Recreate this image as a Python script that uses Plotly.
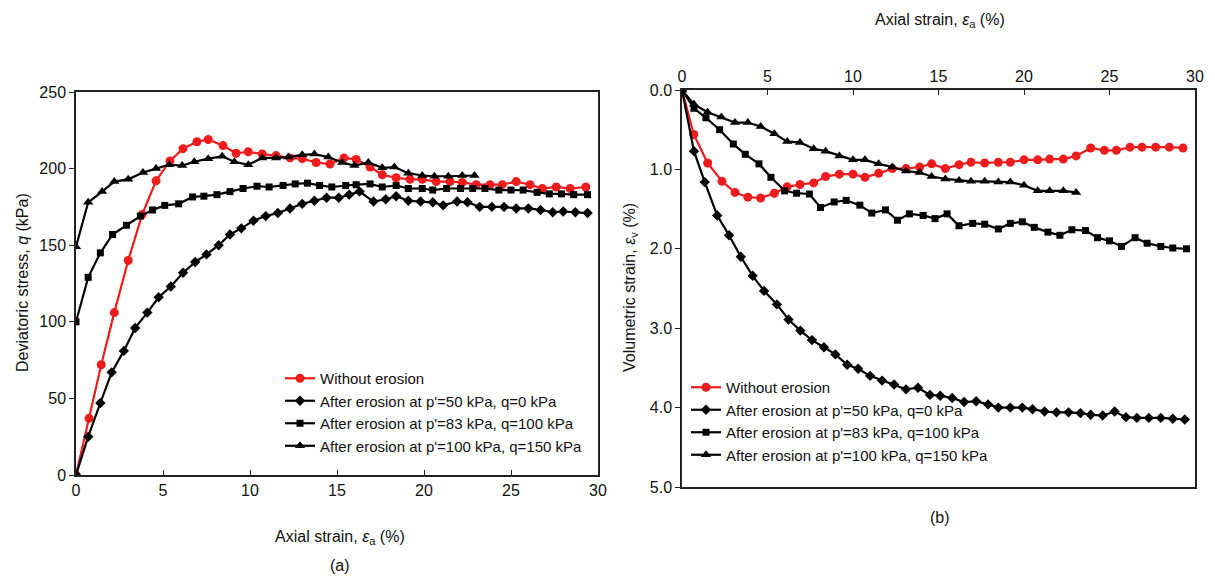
import plotly.graph_objects as go

# page offset of the plot inside the browser (body margin)
OFF = 8
W, H = 1215 - 2 * OFF, 583 - 2 * OFF

# ---------------- Data (a): deviatoric stress vs axial strain ----------------
a_red_x = [0, 0.75, 1.45, 2.2, 3.0, 3.8, 4.6, 5.4, 6.15, 6.95, 7.6, 8.45, 9.2, 9.9, 10.7, 11.5, 12.3, 13.0, 13.8,
           14.6, 15.4, 16.1, 16.9, 17.6, 18.4, 19.2, 19.9, 20.7, 21.5, 22.2, 23.0, 23.8, 24.5, 25.3, 26.1, 26.8,
           27.6, 28.4, 29.3]
a_red_q = [0, 37, 72, 106, 140, 170, 192, 205, 213, 217.5, 219, 215, 210, 211, 209.5, 208.5, 207, 206.5, 204,
           203, 207, 206, 201, 196, 194, 193, 193, 191.5, 191.5, 191, 189.5, 189.5, 189.5, 191.5, 189.5, 187,
           188, 187, 188]

a_dia_x = [0, 0.7, 1.4, 2.05, 2.75, 3.4, 4.1, 4.75, 5.45, 6.15, 6.85, 7.5, 8.2, 8.85, 9.5, 10.2, 10.9, 11.6, 12.3,
           13.0, 13.7, 14.4, 15.1, 15.7, 16.3, 17.1, 17.8, 18.4, 19.1, 19.8, 20.5, 21.1, 21.9, 22.5, 23.2, 23.9,
           24.6, 25.3, 26.0, 26.7, 27.4, 28.0, 28.7, 29.4]
a_dia_q = [0, 25, 47, 67, 81, 96, 106, 116, 123, 132, 139, 144, 150, 157, 161, 166, 169, 171, 174,
           177, 179, 181, 181, 183, 185, 178.5, 180, 182, 179, 178.5, 178, 176, 178.5, 178, 175, 175,
           175, 174, 174, 173, 171.5, 172, 171.5, 171]

a_sq_x = [0, 0.7, 1.4, 2.1, 2.9, 3.7, 4.4, 5.1, 5.9, 6.7, 7.35, 8.1, 8.85, 9.6, 10.4, 11.1, 11.9, 12.6, 13.3,
          14.0, 14.7, 15.5, 16.1, 16.9, 17.6, 18.4, 19.1, 19.9, 20.5, 21.3, 22.1, 22.8, 23.5, 24.3, 25.0, 25.7,
          26.5, 27.2, 27.9, 28.6, 29.4]
a_sq_q = [100, 129, 145, 157, 163, 169, 173, 176, 177, 181.5, 182, 183, 185, 187, 188.5, 188, 189, 190, 190.5,
          189, 188, 189, 189.5, 190, 188, 189, 187, 187, 186, 187, 187, 187, 187, 186, 186, 186,
          184.5, 183.5, 183.5, 183, 183]

a_tri_x = [0, 0.7, 1.5, 2.2, 3.0, 3.85, 4.6, 5.35, 6.1, 6.8, 7.6, 8.4, 9.1, 9.9, 10.7, 11.5, 12.2, 13.0, 13.7,
           14.5, 15.3, 16.0, 16.8, 17.6, 18.3, 19.1, 19.9, 20.6, 21.4, 22.2, 22.9]
a_tri_q = [149, 178, 185, 191.5, 193, 197.5, 200, 202.5, 202, 204.5, 206.5, 208, 204.5, 202.5, 207, 207, 207.5,
           209, 209.5, 207.5, 204, 202, 204, 200.5, 201, 197, 195.5, 195, 195, 195.5, 195.5]

# ---------------- Data (b): volumetric strain vs axial strain ----------------
b_red_x = [0, 0.69, 1.5, 2.34, 3.1, 3.85, 4.6, 5.4, 6.15, 6.9, 7.7, 8.4, 9.2, 10.0, 10.7, 11.5, 12.3, 13.1, 13.9,
           14.6, 15.4, 16.2, 16.9, 17.7, 18.5, 19.2, 20.0, 20.8, 21.5, 22.3, 23.05, 23.9, 24.7, 25.4, 26.2, 26.9,
           27.7, 28.5, 29.3]
b_red_v = [0, 0.56, 0.92, 1.15, 1.29, 1.35, 1.36, 1.30, 1.22, 1.19, 1.17, 1.09, 1.06, 1.06, 1.10, 1.05, 0.99,
           0.99, 0.97, 0.93, 0.99, 0.94, 0.91, 0.92, 0.91, 0.91, 0.88, 0.88, 0.87, 0.87, 0.83, 0.73, 0.76, 0.76,
           0.72, 0.72, 0.72, 0.72, 0.73]

b_dia_x = [0, 0.7, 1.33, 2.06, 2.75, 3.44, 4.13, 4.8, 5.55, 6.23, 6.92, 7.6, 8.3, 8.97, 9.66, 10.3, 11.0, 11.7,
           12.4, 13.1, 13.8, 14.5, 15.1, 15.8, 16.5, 17.2, 17.9, 18.5, 19.2, 19.9, 20.5, 21.2, 21.9, 22.6, 23.3,
           23.9, 24.6, 25.3, 25.96, 26.6, 27.3, 28.0, 28.7, 29.4]
b_dia_v = [0, 0.77, 1.16, 1.58, 1.83, 2.10, 2.34, 2.53, 2.70, 2.89, 3.03, 3.15, 3.24, 3.33, 3.46, 3.51, 3.60,
           3.66, 3.71, 3.77, 3.75, 3.84, 3.85, 3.88, 3.93, 3.92, 3.96, 4.00, 4.00, 4.00, 4.02, 4.05, 4.06, 4.06,
           4.07, 4.09, 4.10, 4.05, 4.12, 4.13, 4.13, 4.13, 4.14, 4.15]

b_sq_x = [0, 0.7, 1.4, 2.2, 3.0, 3.7, 4.5, 5.2, 6.0, 6.7, 7.45, 8.1, 8.9, 9.6, 10.4, 11.1, 11.9, 12.6, 13.3, 14.1,
          14.8, 15.5, 16.2, 17.0, 17.7, 18.5, 19.2, 19.9, 20.6, 21.4, 22.1, 22.8, 23.6, 24.3, 25.0, 25.7, 26.5,
          27.2, 28.0, 28.7, 29.5]
b_sq_v = [0, 0.23, 0.35, 0.50, 0.68, 0.81, 0.93, 1.10, 1.27, 1.30, 1.31, 1.48, 1.41, 1.39, 1.45, 1.55, 1.51, 1.64,
          1.56, 1.58, 1.62, 1.56, 1.71, 1.68, 1.69, 1.75, 1.68, 1.66, 1.73, 1.79, 1.83, 1.76, 1.77, 1.86, 1.90,
          1.97, 1.86, 1.93, 1.97, 1.99, 2.00]

b_tri_x = [0, 0.7, 1.5, 2.3, 3.1, 3.85, 4.6, 5.4, 6.15, 6.9, 7.7, 8.4, 9.2, 10.0, 10.7, 11.5, 12.3, 13.1, 13.9,
           14.6, 15.4, 16.2, 16.9, 17.7, 18.5, 19.2, 20.0, 20.8, 21.5, 22.3, 23.05]
b_tri_v = [0, 0.18, 0.28, 0.34, 0.41, 0.41, 0.46, 0.55, 0.65, 0.66, 0.74, 0.77, 0.83, 0.88, 0.88, 0.93, 0.97,
           1.02, 1.04, 1.09, 1.12, 1.14, 1.15, 1.15, 1.16, 1.16, 1.20, 1.27, 1.27, 1.27, 1.29]

names = ["Without erosion",
         "After erosion at p'=50 kPa, q=0 kPa",
         "After erosion at p'=83 kPa, q=100 kPa",
         "After erosion at p'=100 kPa, q=150 kPa"]

RED = "#ee1c1c"
BLK = "#000000"
styles = [
    dict(color=RED, symbol="circle", size=9),
    dict(color=BLK, symbol="diamond", size=8),
    dict(color=BLK, symbol="square", size=7),
    dict(color=BLK, symbol="triangle-up", size=9),
]

FONT = "Liberation Sans, Arial, sans-serif"

fig = go.Figure()

left = [(a_red_x, a_red_q), (a_dia_x, a_dia_q), (a_sq_x, a_sq_q), (a_tri_x, a_tri_q)]
right = [(b_red_x, b_red_v), (b_dia_x, b_dia_v), (b_sq_x, b_sq_v), (b_tri_x, b_tri_v)]

for (xs, ys), nm, st in zip(left, names, styles):
    fig.add_trace(go.Scatter(x=xs, y=ys, name=nm, mode="lines+markers",
                             line=dict(color=st["color"], width=2.2),
                             marker=dict(color=st["color"], symbol=st["symbol"], size=st["size"]),
                             xaxis="x", yaxis="y", legend="legend"))
for (xs, ys), nm, st in zip(right, names, styles):
    fig.add_trace(go.Scatter(x=xs, y=ys, name=nm, mode="lines+markers",
                             line=dict(color=st["color"], width=2.2),
                             marker=dict(color=st["color"], symbol=st["symbol"], size=st["size"]),
                             xaxis="x2", yaxis="y2", legend="legend2"))

def px_x(p):
    return (p - OFF) / W

def px_y(p):
    return 1 - (p - OFF) / H

tickfont = dict(family=FONT, size=16, color="#111")
axis_common = dict(showgrid=False, zeroline=False, showline=True, linecolor="#222", linewidth=1.5,
                   mirror=True, tickfont=tickfont, tickcolor="#222", ticklen=5, automargin=False)

fig.update_layout(
    width=W, height=H, paper_bgcolor="white", plot_bgcolor="white",
    margin=dict(l=0, r=0, t=0, b=0),
    showlegend=True,
    xaxis=dict(domain=[px_x(76), px_x(598)], range=[0, 30], tickvals=[0, 5, 10, 15, 20, 25, 30],
               ticks="inside", anchor="y", **axis_common),
    yaxis=dict(domain=[px_y(475), px_y(92)], range=[0, 250], tickvals=[0, 50, 100, 150, 200, 250],
               ticks="outside", anchor="x", **axis_common),
    xaxis2=dict(domain=[px_x(682), px_x(1195)], range=[0, 30], tickvals=[0, 5, 10, 15, 20, 25, 30],
                side="top", ticks="inside", anchor="y2", **axis_common),
    yaxis2=dict(domain=[px_y(487), px_y(90)], range=[5, 0], tickvals=[0, 1, 2, 3, 4, 5],
                tickformat=".1f", ticks="outside", anchor="x2", **axis_common),
    legend=dict(x=px_x(280), y=px_y(362), xanchor="left", yanchor="top",
                bgcolor="rgba(255,255,255,0)", font=dict(family=FONT, size=15, color="#111"),
                tracegroupgap=0, itemwidth=30),
    legend2=dict(x=px_x(686), y=px_y(371), xanchor="left", yanchor="top",
                 bgcolor="rgba(255,255,255,0)", font=dict(family=FONT, size=15, color="#111"),
                 tracegroupgap=0, itemwidth=30),
)

ann_font = dict(family=FONT, size=16, color="#111")
annotations = [
    dict(text="Axial strain, <i>ε</i><sub>a</sub> (%)", x=px_x(340), y=px_y(537), font=ann_font),
    dict(text="(a)", x=px_x(340), y=px_y(565), font=ann_font),
    dict(text="Axial strain, <i>ε</i><sub>a</sub> (%)", x=px_x(940), y=px_y(20), font=ann_font),
    dict(text="(b)", x=px_x(940), y=px_y(517), font=ann_font),
    dict(text="Deviatoric stress, <i>q</i> (kPa)", x=px_x(22), y=px_y(283), textangle=-90, font=ann_font),
    dict(text="Volumetric strain, <i>ε</i><sub>v</sub> (%)", x=px_x(630), y=px_y(288), textangle=-90,
         font=ann_font),
]
for a in annotations:
    a.update(xref="paper", yref="paper", showarrow=False, xanchor="center", yanchor="middle")
fig.update_layout(annotations=annotations)

fig.write_html("out.html")
